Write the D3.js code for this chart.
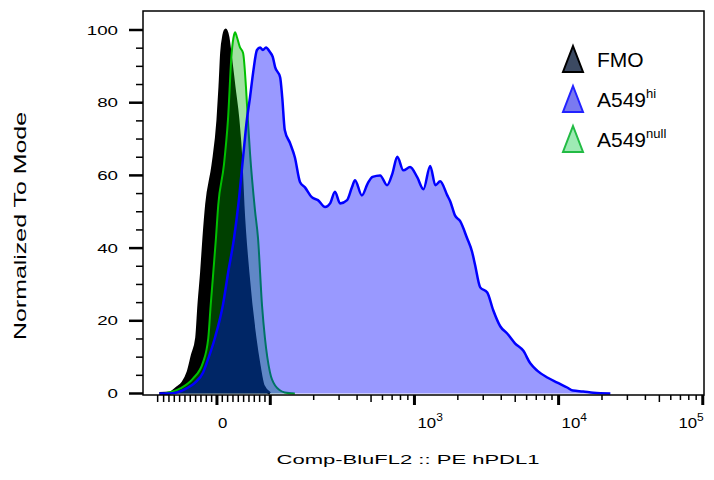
<!DOCTYPE html>
<html><head><meta charset="utf-8">
<script src="https://cdn.jsdelivr.net/npm/d3@7"></script>
<style>
body{margin:0;background:#fff;}
svg{display:block;font-family:"Liberation Sans",Arial,Helvetica,sans-serif;}
</style>
</head><body>
<svg id="chart" width="714" height="480"></svg>
<script>
// ---------- data (fluorescence value, % of mode) ----------
const fmoX = [-107,-88,-75,-64,-54,-46,-38,-33.8,-28.7,-24.4,-19.3,-7.5,1.9,5.6,8.8,13,16.3,20.6,24.4,32,39.4,45,48.8,58,71.3,79,86.5,99.4];
const fmoY = [0,0.15,1.5,2.9,5.9,10.6,15.3,24.4,33.5,42.9,52,62.8,75.3,84.3,93.7,98.6,100,98,93.7,84.3,75.2,64.2,51.8,33.3,15.2,7.7,2.2,0];

const nullX = [-98,-69,-45,-26.3,-16.3,-11.8,-6.9,-1.9,2.4,13,20.6,27.6,32,34,37.5,43,49,54.4,58,62,71.3,77,84.5,90,99.4,108,126,148];
const nullY = [0,1.4,4.1,8.5,15.2,24.2,33.3,42.7,51.8,62.8,75.2,93.7,98.6,99.4,98,95.3,93.7,84.3,75.2,66.1,50.4,42.7,24.2,15.2,5.8,2.2,0.3,0];

const hiX = [-107,-83,-57,-41,-26,-19,-4,11,21,32,40,49,56,62,68,75,81,86,92,99,104,108,117,121,126,137,148,161,174,194,214,240,260,281,305,341,369,387,432,475,512,578,646,703,760,838,933,1045,1155,1286,1397,1508,1690,1770,1910,2076,2320,2510,2630,2859,3200,3520,3936,4400,4980,5680,6360,7100,8350,9800,11470,12600,14800,17400,22860];
const hiY = [0,0.1,1.4,3,5.8,8.5,15.2,24.2,33.3,42.7,51.8,65,75.2,81.5,88.5,94.5,95.2,94.5,95.2,94,92.6,89.8,87,81.5,72.5,68.9,65,58.1,56.7,54,53.2,51.3,52.3,55.5,52.3,53.2,56.8,58.7,54.5,57.9,59.6,60,57.3,60.5,65.1,61.4,62.3,59.5,56.2,62.6,57.3,58.4,54.5,52.9,49,47.4,42.7,39,35.5,29.2,27.8,22.9,18.5,16.5,13.8,11.8,8.3,6.3,4.4,3.0,1.65,0.8,0.55,0.2,0];

const yTicks = [0,20,40,60,80,100];
const yMinor = [5,10,15,25,30,35,45,50,55,65,70,75,85,90,95];
const xLabelValues = [0,1e3,1e4,1e5];
const xLabelBase = ["0","10","10","10"];
const xLabelExp = ["","3","4","5"];
const xMajor = [0,100,1e3,1e4,1e5];

const legendNames = ["FMO","A549","A549"];
const legendSup = ["","hi","null"];
const legendFill = ["#3c4a62","#7a7af0","#9eeab4"];
const legendStroke = ["#000000","#2222ff","#22bb44"];

// ---------- scales ----------
const L = 143, R = 704, T = 11, B = 395;
const LIN = 100, K = 0.37;
const biex = v => Math.abs(v) <= LIN ? K * v / LIN : Math.sign(v) * (K + Math.log10(Math.abs(v) / LIN));
const xLin = d3.scaleLinear().domain([biex(-139), biex(102000)]).range([L, R]);
const x = v => xLin(biex(v));
const y = d3.scaleLinear().domain([0, 100]).range([393.5, 30]);

const svg = d3.select("#chart");
svg.append("defs").append("clipPath").attr("id","clip")
  .append("rect").attr("x",L).attr("y",T).attr("width",R-L).attr("height",B-T);

const zip = (a,b) => a.map((v,i)=>[v,b[i]]);
const area = d3.area().x(d=>x(d[0])).y0(y(0)).y1(d=>y(d[1])).curve(d3.curveMonotoneX);
const line = d3.line().x(d=>x(d[0])).y(d=>y(d[1])).curve(d3.curveMonotoneX);

const g = svg.append("g").attr("clip-path","url(#clip)");
const fmo = zip(fmoX,fmoY), nul = zip(nullX,nullY), hi = zip(hiX,hiY);

g.append("path").attr("d",area(fmo)).attr("fill","#000");
g.append("path").attr("d",line(fmo)).attr("fill","none").attr("stroke","#000").attr("stroke-width",3).attr("stroke-linejoin","round");
g.append("path").attr("d",area(nul)).attr("fill","rgb(0,173,0)").attr("fill-opacity",0.37);
g.append("path").attr("d",line(nul)).attr("fill","none").attr("stroke","#00c000").attr("stroke-width",2).attr("stroke-linejoin","round");
g.append("path").attr("d",area(hi)).attr("fill","#0000ff").attr("fill-opacity",0.4);
g.append("path").attr("d",line(hi)).attr("fill","none").attr("stroke","#0000ff").attr("stroke-width",2.5).attr("stroke-linejoin","round");

// frame
svg.append("rect").attr("x",L).attr("y",T).attr("width",R-L).attr("height",B-T)
  .attr("fill","none").attr("stroke","#000").attr("stroke-width",1.5);

// y ticks
const ax = svg.append("g").attr("stroke","#000");
yTicks.forEach(v=>{
  ax.append("line").attr("x1",L-14).attr("x2",L).attr("y1",y(v)).attr("y2",y(v)).attr("stroke-width",2.5);
});
yMinor.forEach(v=>{
  ax.append("line").attr("x1",L-7).attr("x2",L).attr("y1",y(v)).attr("y2",y(v)).attr("stroke-width",1.5);
});
yTicks.forEach(v=>{
  svg.append("text").attr("transform",`translate(118,${y(v)+4.5}) scale(1.5,1)`)
    .attr("text-anchor","end").attr("font-size",12.5).attr("fill","#000").text(v);
});

// x ticks
const xLinMinor = d3.range(-110, 100, 10).filter(v=>v!==0);
const xLogMinor = [];
[100,1000,10000].forEach(d=>{ for(let m=2;m<=9;m++) xLogMinor.push(m*d); });
xMajor.forEach(v=>{
  ax.append("line").attr("x1",x(v)).attr("x2",x(v)).attr("y1",B).attr("y2",B+10).attr("stroke-width",3);
});
xLinMinor.forEach(v=>{
  ax.append("line").attr("x1",x(v)).attr("x2",x(v)).attr("y1",B).attr("y2",B+7).attr("stroke-width",1.5);
});
xLogMinor.forEach(v=>{
  const m = v / Math.pow(10, Math.floor(Math.log10(v)));
  ax.append("line").attr("x1",x(v)).attr("x2",x(v)).attr("y1",B).attr("y2",B+(m===5?7:5)).attr("stroke-width",1.5);
});
xLabelValues.forEach((v,i)=>{
  const last = i === xLabelValues.length-1;
  const t = svg.append("text")
    .attr("transform",`translate(${last ? x(v)+1 : x(v)+ (i===0?1:3)},428) scale(1.2,1)`)
    .attr("text-anchor", last ? "end" : "start").attr("font-size",14).attr("fill","#000");
  t.append("tspan").text(xLabelBase[i]);
  if (xLabelExp[i]) t.append("tspan").attr("dy",-7).attr("font-size",10).text(xLabelExp[i]);
});

// axis titles
svg.append("text").attr("x",408).attr("y",464).attr("text-anchor","middle")
  .attr("font-size",13).attr("textLength",263).attr("lengthAdjust","spacingAndGlyphs")
  .attr("fill","#000").text("Comp-BluFL2 :: PE hPDL1");
svg.append("text").attr("transform","translate(26,226) rotate(-90)").attr("text-anchor","middle")
  .attr("font-size",16.5).attr("textLength",228).attr("lengthAdjust","spacingAndGlyphs")
  .attr("fill","#000").text("Normalized To Mode");

// legend
const lg = svg.append("g");
legendNames.forEach((n,i)=>{
  const cy = 59 + i*40;
  const tri = d3.path();
  tri.moveTo(573, cy-13); tri.lineTo(583, cy+13); tri.lineTo(563, cy+13); tri.closePath();
  lg.append("path").attr("d",tri.toString()).attr("fill",legendFill[i]).attr("stroke",legendStroke[i])
    .attr("stroke-width",2).attr("stroke-linejoin","miter");
  const t = lg.append("text").attr("x",597).attr("y",cy+8).attr("font-size",21).attr("fill","#000");
  t.append("tspan").text(n);
  if (legendSup[i]) t.append("tspan").attr("dy",-9).attr("font-size",13).text(legendSup[i]);
});
</script>
</body></html>
